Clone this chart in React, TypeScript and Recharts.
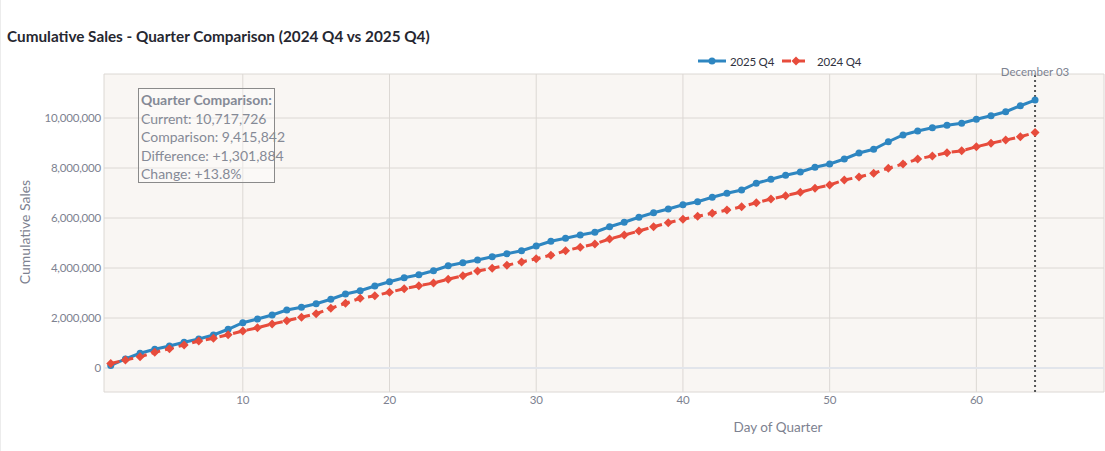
import React from "react";
import { CartesianGrid, Line, LineChart, ReferenceLine, XAxis, YAxis } from "recharts";

const DAYS = [
  1, 2, 3, 4, 5, 6, 7, 8, 9, 10, 11, 12, 13, 14, 15, 16, 17, 18, 19, 20, 21, 22, 23, 24, 25, 26, 27, 28, 29, 30, 31, 32,
  33, 34, 35, 36, 37, 38, 39, 40, 41, 42, 43, 44, 45, 46, 47, 48, 49, 50, 51, 52, 53, 54, 55, 56, 57, 58, 59, 60, 61,
  62, 63, 64
];

const SALES_2025_Q4 = [
  100000, 360000, 590000, 750000, 880000, 1030000, 1160000, 1320000, 1550000, 1810000, 1960000, 2120000, 2320000,
  2430000, 2570000, 2750000, 2960000, 3090000, 3280000, 3450000, 3610000, 3730000, 3890000, 4090000, 4210000, 4320000,
  4450000, 4570000, 4690000, 4880000, 5070000, 5190000, 5320000, 5430000, 5650000, 5830000, 6030000, 6210000, 6360000,
  6530000, 6650000, 6830000, 6990000, 7120000, 7390000, 7550000, 7710000, 7840000, 8030000, 8160000, 8360000, 8600000,
  8750000, 9050000, 9320000, 9480000, 9610000, 9710000, 9790000, 9950000, 10090000, 10250000, 10490000, 10717726
];

const SALES_2024_Q4 = [
  180000, 320000, 450000, 630000, 770000, 920000, 1080000, 1190000, 1330000, 1480000, 1610000, 1760000, 1890000,
  2030000, 2170000, 2390000, 2590000, 2790000, 2890000, 3030000, 3170000, 3290000, 3400000, 3550000, 3690000, 3880000,
  3990000, 4110000, 4240000, 4370000, 4510000, 4690000, 4830000, 4960000, 5160000, 5320000, 5480000, 5650000, 5810000,
  5950000, 6070000, 6190000, 6320000, 6450000, 6610000, 6760000, 6890000, 7030000, 7190000, 7320000, 7520000, 7640000,
  7790000, 7990000, 8160000, 8360000, 8480000, 8610000, 8690000, 8850000, 8990000, 9120000, 9250000, 9415842
];

const X_TICKS = [10, 20, 30, 40, 50, 60];
const Y_TICKS = [0, 2000000, 4000000, 6000000, 8000000, 10000000];

const SUMMARY = [
  "Current: 10,717,726",
  "Comparison: 9,415,842",
  "Difference: +1,301,884",
  "Change: +13.8%"
];

const BLUE = "#2e86c1";
const RED = "#e74c3c";
const GREY = "#7d8290";
const FONT = "Lato, 'Open Sans', sans-serif";

const data = DAYS.map((day, i) => ({
  day,
  current: SALES_2025_Q4[i],
  comparison: SALES_2024_Q4[i]
}));

function Diamond(props: any) {
  const { cx, cy } = props;
  if (cx == null || cy == null) return null;
  const s = 4.5;
  return (
    <polygon
      points={`${cx},${cy - s} ${cx + s},${cy} ${cx},${cy + s} ${cx - s},${cy}`}
      fill={RED}
    />
  );
}

function Legend() {
  return (
    <div
      style={{
        position: "absolute",
        left: 695,
        top: 54,
        display: "flex",
        alignItems: "center",
        fontFamily: FONT,
        fontSize: 11.5,
        letterSpacing: -0.2,
        color: "#31333f"
      }}
    >
      <svg width={32} height={14}>
        <line x1={2} y1={7} x2={30} y2={7} stroke={BLUE} strokeWidth={3} />
        <circle cx={16} cy={7} r={3.5} fill={BLUE} />
      </svg>
      <span style={{ marginLeft: 2, marginRight: 6 }}>2025 Q4</span>
      <svg width={32} height={14}>
        <line x1={2} y1={7} x2={30} y2={7} stroke={RED} strokeWidth={3} strokeDasharray="9 5" />
        <polygon points="16,2.5 20.5,7 16,11.5 11.5,7" fill={RED} />
      </svg>
      <span style={{ marginLeft: 5 }}>2024 Q4</span>
    </div>
  );
}

export default function App() {
  return (
    <div
      style={{
        position: "absolute",
        left: 0,
        top: 0,
        width: 1105,
        height: 451,
        background: "#fff",
        overflow: "hidden",
        borderLeft: "1px solid #ececec"
      }}
    >
      <div
        style={{
          position: "absolute",
          left: 6,
          top: 27,
          fontFamily: FONT,
          fontWeight: 700,
          fontSize: 15.3,
          color: "#262730",
          whiteSpace: "nowrap"
        }}
      >
        Cumulative Sales - Quarter Comparison (2024 Q4 vs 2025 Q4)
      </div>
      <Legend />
      <LineChart
        width={1105}
        height={451}
        data={data}
        margin={{ top: 74, right: 2, bottom: 29, left: 43 }}
        style={{ position: "absolute", left: 0, top: 0, fontFamily: FONT }}
      >
        <CartesianGrid stroke="#dcd8d4" fill="#f9f6f3" strokeWidth={1} />
        <XAxis
          dataKey="day"
          type="number"
          domain={[0.54, 68.7]}
          ticks={X_TICKS}
          allowDataOverflow
          height={30}
          axisLine={false}
          tickLine={false}
          tickSize={0}
          tick={{ fill: GREY, fontSize: 11.5, letterSpacing: -0.2 }}
          tickMargin={4}
        />
        <YAxis
          type="number"
          domain={[-960000, 11760000]}
          ticks={Y_TICKS}
          allowDataOverflow
          width={60}
          axisLine={false}
          tickLine={false}
          tickSize={0}
          tick={{ fill: GREY, fontSize: 11.5, letterSpacing: -0.2 }}
          tickFormatter={(v: number) => v.toLocaleString("en-US")}
          tickMargin={3}
        />
        <ReferenceLine y={0} stroke="#e2e5eb" strokeWidth={2} />
        <Line
          dataKey="current"
          stroke={BLUE}
          strokeWidth={3}
          dot={{ r: 3.5, fill: BLUE, stroke: "none" }}
          activeDot={false}
          isAnimationActive={false}
        />
        <Line
          dataKey="comparison"
          stroke={RED}
          strokeWidth={3}
          strokeDasharray="9 5"
          dot={<Diamond />}
          activeDot={false}
          isAnimationActive={false}
        />
        <ReferenceLine
          x={64}
          stroke="#555"
          strokeWidth={2}
          strokeDasharray="2 3"
          label={{ value: "December 03", position: "top", fill: GREY, fontSize: 11.5, dy: 7 }}
        />
      </LineChart>
      <div
        style={{
          position: "absolute",
          left: 23,
          top: 232,
          transform: "translate(-50%, -50%) rotate(-90deg)",
          fontFamily: FONT,
          fontSize: 14,
          color: GREY,
          whiteSpace: "nowrap"
        }}
      >
        Cumulative Sales
      </div>
      <div
        style={{
          position: "absolute",
          left: 777,
          top: 427,
          transform: "translate(-50%, -50%)",
          fontFamily: FONT,
          fontSize: 13.5,
          color: GREY,
          whiteSpace: "nowrap"
        }}
      >
        Day of Quarter
      </div>
      <div
        style={{
          position: "absolute",
          left: 137,
          top: 88,
          width: 137,
          height: 95,
          border: "1px solid #8a8a8a",
          background: "rgba(255,255,255,0.35)",
          fontFamily: FONT,
          fontSize: 14,
          lineHeight: "18.5px",
          color: "#858a96",
          paddingLeft: 2,
          paddingTop: 2,
          boxSizing: "border-box",
          whiteSpace: "nowrap"
        }}
      >
        <div style={{ fontWeight: 700 }}>Quarter Comparison:</div>
        {SUMMARY.map((line) => (
          <div key={line}>{line}</div>
        ))}
      </div>
    </div>
  );
}
